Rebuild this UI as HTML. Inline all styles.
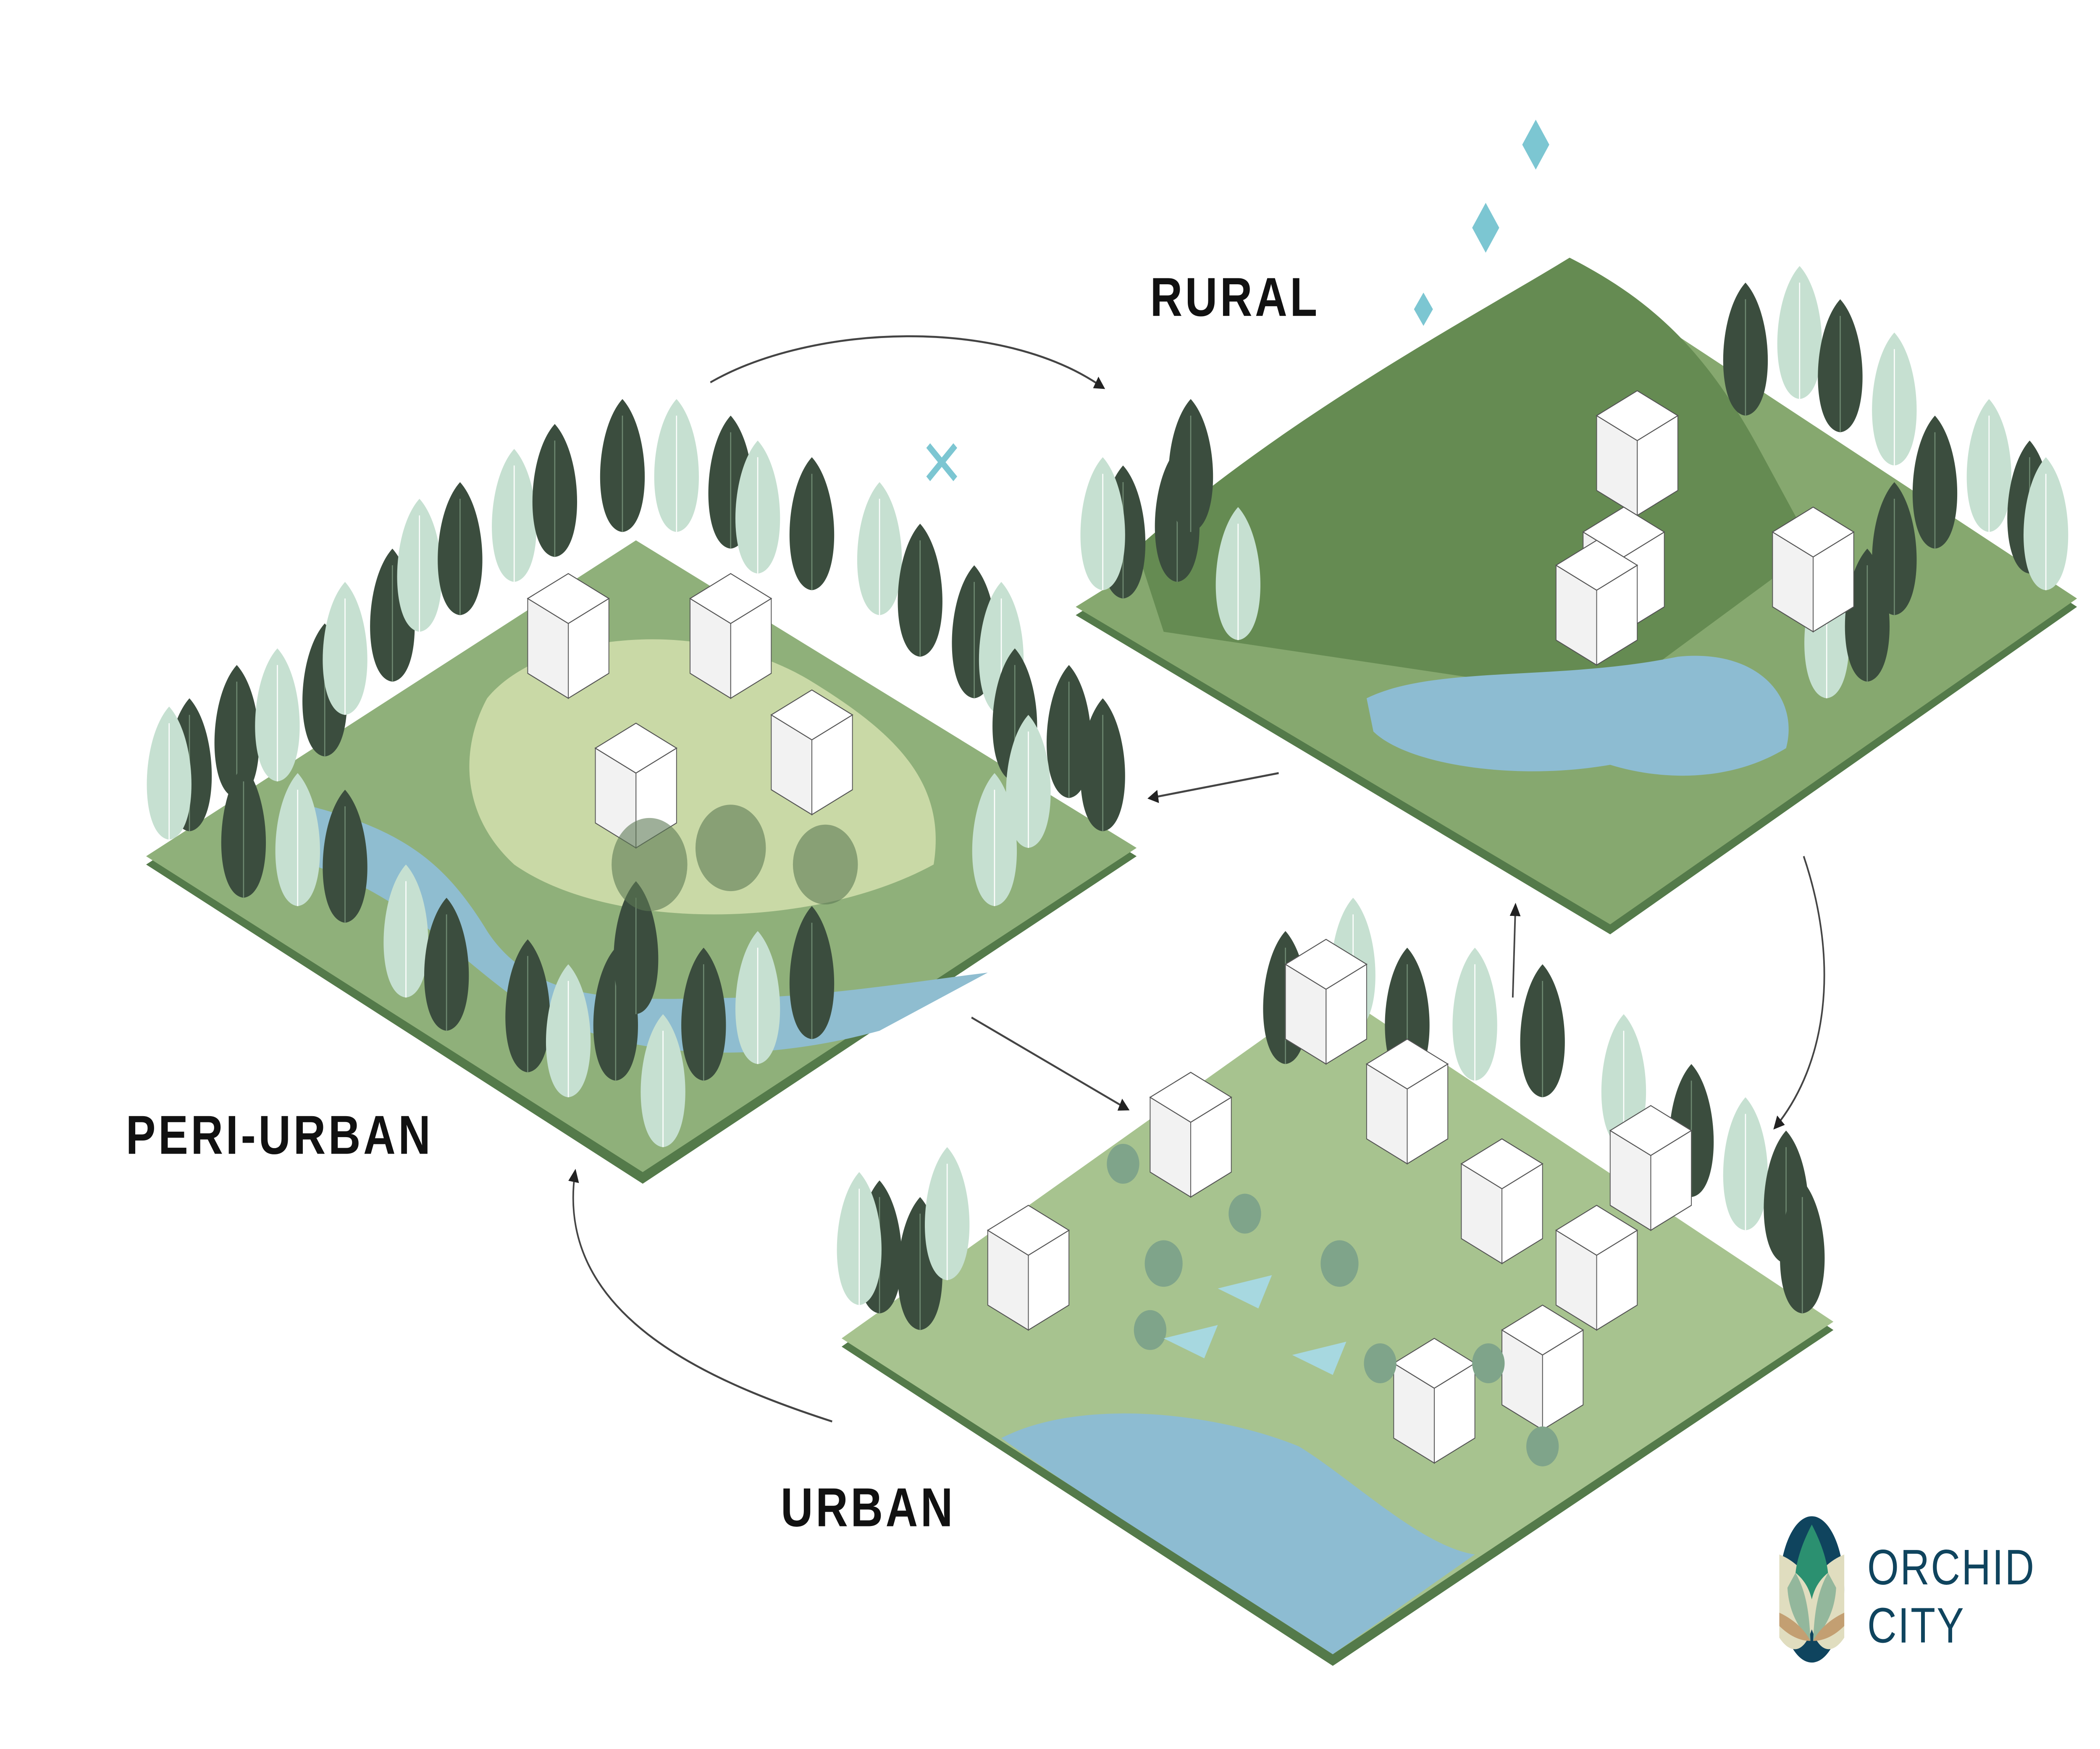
<!DOCTYPE html>
<html><head><meta charset="utf-8"><style>html,body{margin:0;padding:0;background:#fff;width:100%;height:100%;overflow:hidden}svg{display:block;position:fixed;left:0;top:0;width:100vw;height:100vh}</style></head>
<body>
<svg viewBox="0 0 1552 1052" preserveAspectRatio="none" xmlns="http://www.w3.org/2000/svg">
<defs>
<g id="td"><path d="M0,0 C-22,-2 -22,-60 0,-80 C22,-60 22,-2 0,0Z" fill="#3b4d3e"/><line x1="0" y1="0" x2="0" y2="-70" stroke="#6f8a72" stroke-width="0.8"/></g>
<g id="tl"><path d="M0,0 C-22,-2 -22,-60 0,-80 C22,-60 22,-2 0,0Z" fill="#c6e0d1"/><line x1="0" y1="0" x2="0" y2="-70" stroke="#fff" stroke-width="0.8"/></g>
<g id="bl"><path d="M0,0 L30,-15 L30,-60 L0,-45Z" fill="#fff" stroke="#555" stroke-width="0.6"/><path d="M0,0 L-30,-15 L-30,-60 L0,-45Z" fill="#f2f2f2" stroke="#555" stroke-width="0.6"/><path d="M0,-45 L30,-60 L0,-75 L-30,-60Z" fill="#fff" stroke="#555" stroke-width="0.6"/></g>
<marker id="ah" markerWidth="8" markerHeight="8" refX="6" refY="4" orient="auto" markerUnits="userSpaceOnUse"><path d="M0,0 L8,4 L0,8Z" fill="#222"/></marker>
</defs>

<!-- PERI-URBAN tile -->
<polygon points="108,520 470,330 840,515 475,712" fill="#547a4a"/>
<polygon points="108,515 470,325 840,510 475,705" fill="#8fb07a"/>
<path d="M360,420 C400,380 520,370 600,410 C660,440 700,470 690,520 C600,560 450,560 380,520 C340,490 340,450 360,420Z" fill="#c9d9a6"/>
<path d="M230,485 C300,500 330,520 360,560 C400,610 480,600 560,600 C620,598 680,590 730,585 L650,620 C560,640 460,640 380,600 C330,570 300,540 230,520Z" fill="#8fbdd0"/>
<g>
<use href="#td" x="140" y="500"/><use href="#tl" x="125" y="505"/><use href="#td" x="175" y="480"/><use href="#tl" x="205" y="470"/><use href="#td" x="240" y="455"/><use href="#tl" x="255" y="430"/><use href="#td" x="290" y="410"/><use href="#tl" x="310" y="380"/><use href="#td" x="340" y="370"/><use href="#tl" x="380" y="350"/><use href="#td" x="410" y="335"/><use href="#td" x="460" y="320"/><use href="#tl" x="500" y="320"/><use href="#td" x="540" y="330"/><use href="#tl" x="560" y="345"/><use href="#td" x="600" y="355"/><use href="#tl" x="650" y="370"/><use href="#td" x="680" y="395"/><use href="#td" x="720" y="420"/><use href="#tl" x="740" y="430"/>
<use href="#td" x="750" y="470"/><use href="#td" x="790" y="480"/><use href="#tl" x="760" y="510"/><use href="#td" x="815" y="500"/><use href="#tl" x="735" y="545"/>
<use href="#td" x="180" y="540"/><use href="#tl" x="220" y="545"/><use href="#td" x="255" y="555"/><use href="#tl" x="300" y="600"/><use href="#td" x="330" y="620"/>
<use href="#td" x="390" y="645"/><use href="#tl" x="420" y="660"/><use href="#td" x="455" y="650"/><use href="#tl" x="490" y="690"/><use href="#td" x="520" y="650"/><use href="#tl" x="560" y="640"/><use href="#td" x="600" y="625"/><use href="#td" x="470" y="610"/>
</g>
<g><use href="#bl" x="420" y="420"/><use href="#bl" x="540" y="420"/><use href="#bl" x="470" y="510"/><use href="#bl" x="600" y="490"/></g>
<g fill="#5d7a55"><circle cx="480" cy="520" r="28" opacity=".6"/><circle cx="540" cy="510" r="26" opacity=".6"/><circle cx="610" cy="520" r="24" opacity=".6"/></g>
<path d="M686,268 l20,20 M706,268 l-20,20" stroke="#7cc6d2" stroke-width="4"/>

<!-- RURAL tile -->
<polygon points="795,370 1180,175 1535,365 1190,562" fill="#547a4a"/>
<polygon points="795,365 1180,170 1535,360 1190,556" fill="#86a86f"/>
<path d="M840,330 C950,250 1090,190 1160,155 C1220,180 1260,210 1300,270 L1340,330 L1190,420 L860,380Z" fill="#658b52"/>
<path d="M1010,420 C1060,400 1150,410 1240,395 C1300,390 1330,420 1320,450 C1280,470 1230,470 1190,460 C1120,470 1040,460 1015,440Z" fill="#8dbcd2"/>
<g><use href="#td" x="830" y="360"/><use href="#tl" x="815" y="355"/><use href="#td" x="870" y="350"/><use href="#tl" x="915" y="385"/><use href="#td" x="880" y="320"/>
<use href="#td" x="1290" y="250"/><use href="#tl" x="1330" y="240"/><use href="#td" x="1360" y="260"/><use href="#tl" x="1400" y="280"/><use href="#td" x="1430" y="330"/><use href="#tl" x="1470" y="320"/><use href="#td" x="1500" y="345"/><use href="#tl" x="1512" y="355"/><use href="#td" x="1400" y="370"/><use href="#tl" x="1350" y="420"/><use href="#td" x="1380" y="410"/></g>
<g><use href="#bl" x="1210" y="310"/><use href="#bl" x="1200" y="380"/><use href="#bl" x="1340" y="380"/><use href="#bl" x="1180" y="400"/></g>
<g fill="#7cc6d2"><path d="M1135,72 l10,15 -10,15 -10,-15Z"/><path d="M1098,122 l10,15 -10,15 -10,-15Z"/><path d="M1052,176 l7,10 -7,10 -7,-10Z"/></g>

<!-- URBAN tile -->
<polygon points="622,810 985,600 1355,800 985,1002" fill="#547a4a"/>
<polygon points="622,805 985,595 1355,795 985,995" fill="#a7c38f"/>
<path d="M740,865 C800,840 900,850 960,870 C1000,890 1050,930 1090,935 L985,995 C900,950 800,900 740,865Z" fill="#8dbcd2"/>
<g><use href="#td" x="650" y="790"/><use href="#tl" x="635" y="785"/><use href="#td" x="680" y="800"/><use href="#tl" x="700" y="770"/>
<use href="#td" x="950" y="640"/><use href="#tl" x="1000" y="620"/><use href="#td" x="1040" y="650"/><use href="#tl" x="1090" y="650"/><use href="#td" x="1140" y="660"/><use href="#tl" x="1200" y="690"/><use href="#td" x="1250" y="720"/><use href="#tl" x="1290" y="740"/><use href="#td" x="1320" y="760"/><use href="#td" x="1332" y="790"/></g>
<g><use href="#bl" x="760" y="800"/><use href="#bl" x="880" y="720"/><use href="#bl" x="980" y="640"/><use href="#bl" x="1040" y="700"/><use href="#bl" x="1110" y="760"/><use href="#bl" x="1180" y="800"/><use href="#bl" x="1220" y="740"/><use href="#bl" x="1060" y="880"/><use href="#bl" x="1140" y="860"/></g>
<g fill="#7fa48a"><circle cx="830" cy="700" r="12"/><circle cx="860" cy="760" r="14"/><circle cx="920" cy="730" r="12"/><circle cx="990" cy="760" r="14"/><circle cx="1020" cy="820" r="12"/><circle cx="850" cy="800" r="12"/><circle cx="1100" cy="820" r="12"/><circle cx="1140" cy="870" r="12"/></g>
<g fill="#a7d8e0"><path d="M900,775 l40,-8 -10,20Z"/><path d="M860,805 l40,-8 -10,20Z"/><path d="M955,815 l40,-8 -10,20Z"/></g>

<!-- Arrows -->
<g fill="none" stroke="#444" stroke-width="1.2">
<path d="M525,230 C600,195 740,190 815,233" marker-end="url(#ah)"/>
<path d="M945,465 L850,480" marker-end="url(#ah)"/>
<path d="M1333,515 C1360,580 1350,640 1312,678" marker-end="url(#ah)"/>
<path d="M1118,600 L1120,545" marker-end="url(#ah)"/>
<path d="M718,612 L833,667" marker-end="url(#ah)"/>
<path d="M615,855 C520,830 410,790 425,705" marker-end="url(#ah)"/>
</g>

<!-- Labels -->
<g font-family="Liberation Sans, sans-serif" font-weight="bold" fill="#111" font-size="33" letter-spacing="2">
<text x="850" y="190">RURAL</text>
<text x="93" y="694">PERI-URBAN</text>
<text x="577" y="918">URBAN</text>
</g>

<!-- Logo -->
<g>
<ellipse cx="1339" cy="956" rx="24" ry="44" fill="#0f445e"/>
<path d="M1315,935 C1330,940 1339,950 1339,960 C1339,950 1348,940 1363,935 L1363,985 C1355,995 1345,995 1339,980 C1333,995 1323,995 1315,985Z" fill="#e0ddbf"/>
<path d="M1339,917 C1346,928 1350,938 1351,946 C1345,950 1341,955 1339,962 C1337,955 1333,950 1327,946 C1328,938 1332,928 1339,917Z" fill="#2b9070"/>
<path d="M1327,946 C1333,955 1337,965 1338,987 C1330,980 1322,970 1321,955Z" fill="#93b79c"/>
<path d="M1351,946 C1345,955 1341,965 1340,987 C1348,980 1356,970 1357,955Z" fill="#93b79c"/>
<path d="M1315,970 C1328,975 1335,982 1338,987 C1328,987 1320,982 1315,978Z" fill="#c39f72"/>
<path d="M1363,970 C1350,975 1343,982 1340,987 C1350,987 1358,982 1363,978Z" fill="#c39f72"/>
<text x="1380" y="953" font-family="Liberation Sans, sans-serif" font-size="30" fill="#0f445e" letter-spacing="1">ORCHID</text>
<text x="1380" y="988" font-family="Liberation Sans, sans-serif" font-size="30" fill="#0f445e" letter-spacing="1">CITY</text>
</g>
</svg>
</body></html>
